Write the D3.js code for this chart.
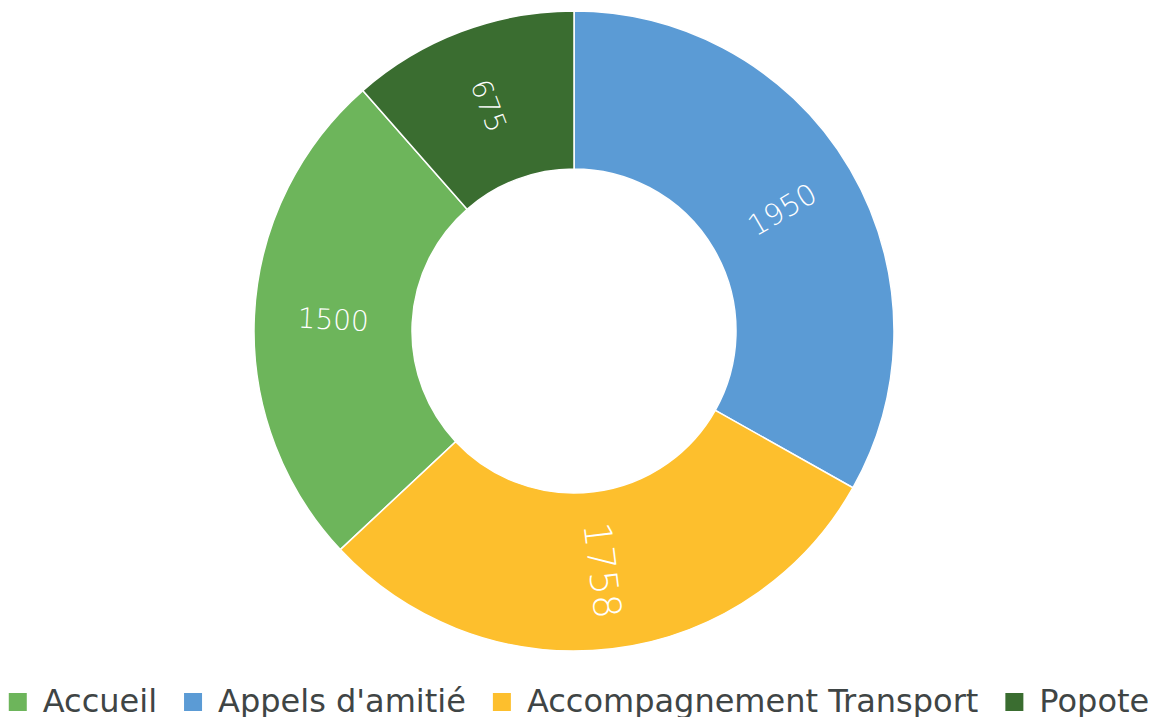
<!DOCTYPE html>
<html>
<head>
<meta charset="utf-8">
<script src="https://cdn.jsdelivr.net/npm/d3@7"></script>
<style>
  body { margin: 0; background: #fff; }
  svg { display: block; }
</style>
</head>
<body>
<script>
// data
var categories = ["Accueil", "Appels d'amitié", "Accompagnement Transport", "Popote"];
var values = [1500, 1950, 1758, 675];
var colors = ["#6db55b", "#5b9bd5", "#fdbf2d", "#3a6d30"];
// order in which the slices go round, clockwise from the top
var sliceOrder = ["Appels d'amitié", "Accompagnement Transport", "Accueil", "Popote"];

var width = 1150, height = 717;
var cx = 574, cy = 331,
    outerR = 320, innerR = 162;

// label font size per slice
var labelSize = {"Accueil": 28, "Appels d'amitié": 29, "Accompagnement Transport": 38, "Popote": 28};

var data = categories.map(function(c, i) { return {name: c, value: values[i], color: colors[i]}; });

var svg = d3.select("body").append("svg")
    .attr("width", width)
    .attr("height", height);

var pie = d3.pie()
    .value(function(d) { return d.value; })
    .sort(function(a, b) { return sliceOrder.indexOf(a.name) - sliceOrder.indexOf(b.name); });

var arc = d3.arc().innerRadius(innerR).outerRadius(outerR);

var g = svg.append("g").attr("transform", "translate(" + cx + "," + cy + ")");

var arcs = pie(data);

g.selectAll("path")
    .data(arcs)
    .enter()
    .append("path")
    .attr("d", arc)
    .attr("fill", function(d) { return d.data.color; })
    .attr("stroke", "#fff")
    .attr("stroke-width", 1.5);

// labels sit on the centroid, turned along the slice
g.selectAll("text.val")
    .data(arcs)
    .enter()
    .append("text")
    .attr("class", "val")
    .attr("transform", function(d) {
        var c = arc.centroid(d);
        var mid = (d.startAngle + d.endAngle) / 2 * 180 / Math.PI;
        var rot = mid - 90;
        if (rot > 90) rot -= 180;
        return "translate(" + c[0] + "," + c[1] + ") rotate(" + rot + ")";
    })
    .attr("text-anchor", "middle")
    .attr("dy", "0.36em")
    .style("font-family", "'DejaVu Sans', sans-serif")
    .style("font-weight", 200)
    .style("font-size", function(d) { return labelSize[d.data.name] + "px"; })
    .style("fill", "#fff")
    .text(function(d) { return d.data.value; });

// legend along the bottom
var legend = svg.append("g").attr("class", "legend");
var box = 18, gapText = 16, gapItem = 27, legendY = 702;

var items = legend.selectAll("g")
    .data(data)
    .enter()
    .append("g");

items.append("rect")
    .attr("width", box)
    .attr("height", box)
    .attr("y", legendY - box / 2)
    .attr("fill", function(d) { return d.color; });

items.append("text")
    .attr("x", box + gapText)
    .attr("y", legendY + 10)
    .style("font-family", "'DejaVu Sans', sans-serif")
    .style("font-size", "32px")
    .style("fill", "#3f4545")
    .text(function(d) { return d.name; });

var xs = [], pos = 0;
items.each(function() {
    xs.push(pos);
    pos += this.getBBox().width + gapItem;
});
var total = pos - gapItem;
var start = width / 2 + 4 - total / 2;
items.attr("transform", function(d, i) { return "translate(" + (start + xs[i]) + ",0)"; });
</script>
</body>
</html>
